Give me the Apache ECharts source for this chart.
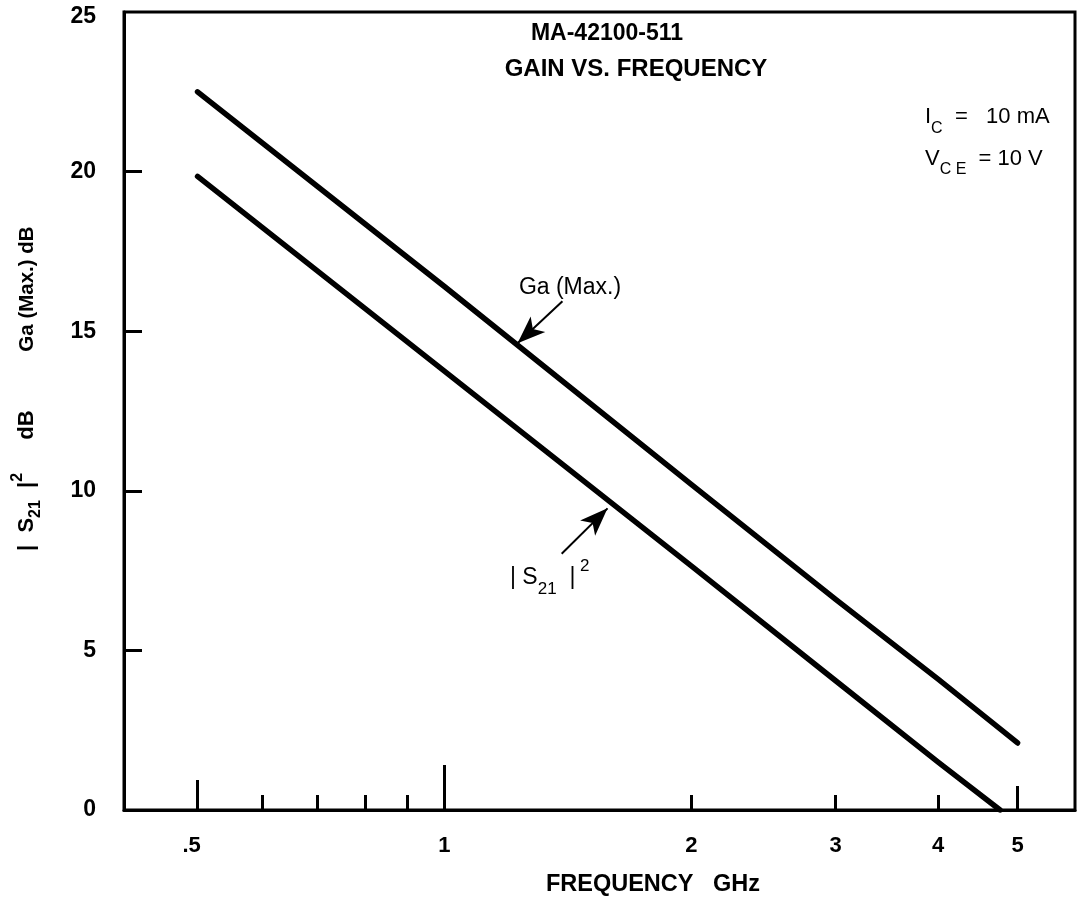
<!DOCTYPE html>
<html><head><meta charset="utf-8">
<script src="https://cdn.jsdelivr.net/npm/echarts@6/dist/echarts.min.js"></script>
<style>html,body{margin:0;padding:0;background:#fff}#c{width:1077px;height:902px}</style>
</head><body><div id="c"></div>
<script>
const FONT = '"Liberation Sans", Arial, Helvetica, sans-serif';

// ---- data ----
const gaFreq = [0.5, 1, 2, 3, 4, 5];
const gaValues = [22.5, 16.4, 10.2, 6.6, 4.1, 2.1];
const s21Freq = [0.5, 1, 2, 3, 4, 4.76];
const s21Values = [19.85, 13.75, 7.65, 4.05, 1.5, 0];

const xTickLabels = [0.5, 1, 2, 3, 4, 5];
const yTickLabels = [0, 5, 10, 15, 20, 25];
const xShortTicks = [0.6, 0.7, 0.8, 0.9, 2, 3, 4];
const xHalfTick = [0.5];
const xOneTick = [1];
const xFiveTick = [5];
const yTicks = [5, 10, 15, 20];

// annotation arrows: [from, tip] in data coords (frequency GHz, dB)
const gaArrow = [[1.393, 15.94], [1.228, 14.62]];
const s21Arrow = [[1.39, 8.03], [1.581, 9.45]];

const X_MIN = 0.4067, X_MAX = 5.875;

const tickFont = { color: '#000', fontFamily: FONT, fontWeight: 'bold', fontSize: 22 };

function xAxisFor(ticks, len, main) {
  return {
    type: 'log', logBase: 10, min: X_MIN, max: X_MAX, position: 'bottom', offset: 0,
    splitLine: { show: false },
    axisLine: { show: !!main, onZero: false, lineStyle: { color: '#000', width: 3 } },
    axisTick: { show: true, inside: true, length: len, customValues: ticks, lineStyle: { color: '#000', width: 3 } },
    axisLabel: main ? Object.assign({
      show: true, customValues: xTickLabels, margin: 25,
      formatter: v => (v < 1 ? '{h|.' + String(v).split('.')[1] + '}' : String(v)),
      rich: { h: Object.assign({ padding: [0, 12, 0, 0] }, tickFont) }
    }, tickFont) : { show: false },
    name: main ? 'FREQUENCY   GHz' : '',
    nameLocation: 'middle', nameGap: 63,
    nameTextStyle: { color: '#000', fontFamily: FONT, fontWeight: 'bold', fontSize: 23.5, padding: [0, 0, 0, 107] }
  };
}

const lineStyle = { color: '#000', width: 5.5, cap: 'round', join: 'round' };
const arrowMark = (arr) => ({
  silent: true, animation: false,
  symbol: ['none', 'arrow'], symbolSize: [16, 28],
  lineStyle: { color: '#000', width: 2, type: 'solid' },
  label: { show: false },
  emphasis: { disabled: true },
  data: [[{ coord: arr[0] }, { coord: arr[1] }]]
});

const yFont = { color: '#000', fontFamily: FONT, fontWeight: 'bold', fontSize: 23 };

const option = {
  backgroundColor: '#fff',
  animation: false,
  grid: { left: 124, right: 2, top: 12, bottom: 90, show: true, borderColor: '#000', borderWidth: 3, backgroundColor: 'transparent' },
  xAxis: [
    xAxisFor(xShortTicks, 15, true),
    xAxisFor(xHalfTick, 30, false),
    xAxisFor(xOneTick, 45, false),
    xAxisFor(xFiveTick, 24, false)
  ],
  yAxis: {
    type: 'value', min: 0, max: 25, interval: 5,
    splitLine: { show: false },
    axisLine: { show: true, onZero: false, lineStyle: { color: '#000', width: 3 } },
    axisTick: { show: true, inside: true, length: 18, customValues: yTicks, lineStyle: { color: '#000', width: 3 } },
    axisLabel: Object.assign({
      show: true, customValues: yTickLabels, margin: 28,
      formatter: v => (v === 25 ? '{t|25}' : String(v)),
      rich: { t: Object.assign({ padding: [10, 0, 0, 0] }, yFont) }
    }, yFont)
  },
  series: [
    {
      name: 'Ga (Max.)', type: 'line', xAxisIndex: 0, yAxisIndex: 0,
      showSymbol: false, symbol: 'none', lineStyle: lineStyle,
      data: gaFreq.map((f, i) => [f, gaValues[i]]),
      markLine: arrowMark(gaArrow)
    },
    {
      name: '|S21|²', type: 'line', xAxisIndex: 0, yAxisIndex: 0,
      showSymbol: false, symbol: 'none', lineStyle: lineStyle,
      data: s21Freq.map((f, i) => [f, s21Values[i]]),
      markLine: arrowMark(s21Arrow)
    }
  ],
  graphic: [
    { type: 'text', x: 607, y: 34, style: { text: 'MA-42100-511', fontFamily: FONT, fontWeight: 'bold', fontSize: 23, fill: '#000', align: 'center', verticalAlign: 'middle' } },
    { type: 'text', x: 636, y: 69, style: { text: 'GAIN VS. FREQUENCY', fontFamily: FONT, fontWeight: 'bold', fontSize: 24, fill: '#000', align: 'center', verticalAlign: 'middle' } },
    { type: 'text', x: 925, y: 117, style: {
        text: '{m|I}{s|C}{m|  =   10 mA}', fill: '#000', align: 'left', verticalAlign: 'middle',
        rich: {
          m: { fontFamily: FONT, fontSize: 22, lineHeight: 40, verticalAlign: 'middle', fill: '#000' },
          s: { fontFamily: FONT, fontSize: 16, lineHeight: 14, verticalAlign: 'bottom', fill: '#000' }
        } } },
    { type: 'text', x: 925, y: 159, style: {
        text: '{m|V}{s|C E}{m|  = 10 V}', fill: '#000', align: 'left', verticalAlign: 'middle',
        rich: {
          m: { fontFamily: FONT, fontSize: 22, lineHeight: 38, verticalAlign: 'middle', fill: '#000' },
          s: { fontFamily: FONT, fontSize: 16, lineHeight: 14, verticalAlign: 'bottom', fill: '#000' }
        } } },
    { type: 'text', x: 570, y: 288, style: { text: 'Ga (Max.)', fontFamily: FONT, fontSize: 23, fill: '#000', align: 'center', verticalAlign: 'middle' } },
    { type: 'text', x: 510, y: 578, style: {
        text: '{m|| S}{s|21}{m|  |}{p| 2}', fill: '#000', align: 'left', verticalAlign: 'middle',
        rich: {
          m: { fontFamily: FONT, fontSize: 23, lineHeight: 40, verticalAlign: 'middle', fill: '#000' },
          s: { fontFamily: FONT, fontSize: 17, lineHeight: 16, verticalAlign: 'bottom', fill: '#000' },
          p: { fontFamily: FONT, fontSize: 17, lineHeight: 24, verticalAlign: 'top', fill: '#000' }
        } } },
    { type: 'text', x: 27, y: 551, rotation: Math.PI / 2, style: {
        text: '{m||  S}{s|21}{m|  |}{p|2}', fill: '#000', align: 'left', verticalAlign: 'middle',
        rich: {
          m: { fontFamily: FONT, fontWeight: 'bold', fontSize: 22, lineHeight: 34, verticalAlign: 'middle', fill: '#000' },
          s: { fontFamily: FONT, fontWeight: 'bold', fontSize: 16, lineHeight: 14, verticalAlign: 'bottom', fill: '#000' },
          p: { fontFamily: FONT, fontWeight: 'bold', fontSize: 16, lineHeight: 20, verticalAlign: 'top', fill: '#000' }
        } } },
    { type: 'text', x: 27, y: 425, rotation: Math.PI / 2, style: {
        text: 'dB', fontFamily: FONT, fontWeight: 'bold', fontSize: 22, fill: '#000', align: 'center', verticalAlign: 'middle' } },
    { type: 'text', x: 27, y: 289, rotation: Math.PI / 2, style: {
        text: 'Ga (Max.) dB', fontFamily: FONT, fontWeight: 'bold', fontSize: 20.5, fill: '#000', align: 'center', verticalAlign: 'middle' } }
  ]
};

const chart = echarts.init(document.getElementById('c'), null, { renderer: 'canvas' });
chart.setOption(option);
</script>
</body></html>
